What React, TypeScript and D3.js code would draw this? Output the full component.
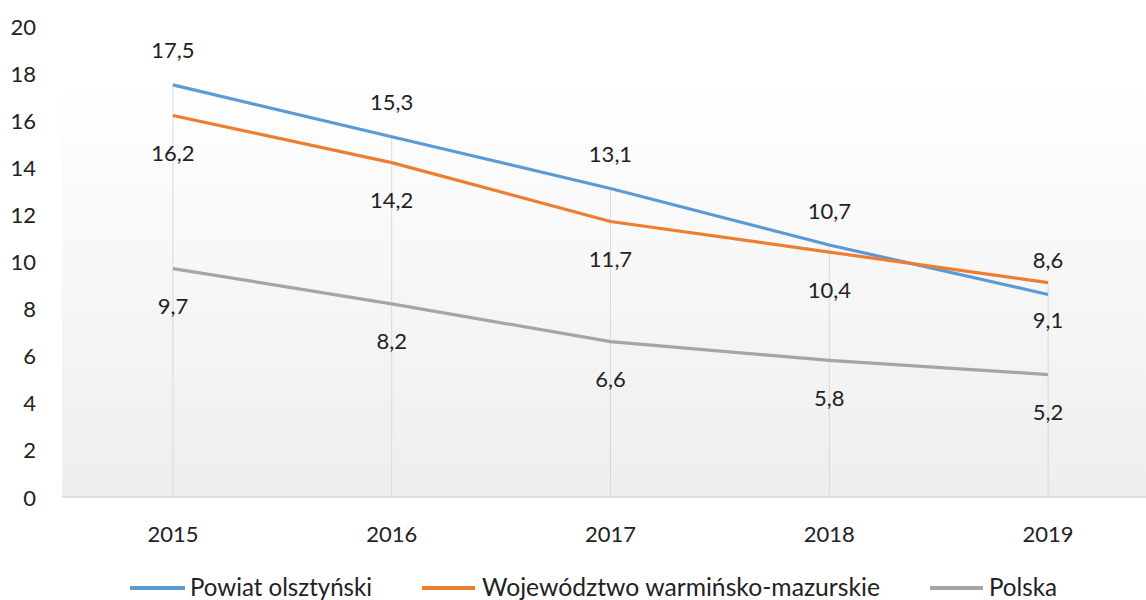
import React from "react";
import * as d3 from "d3";

const categories = ["2015", "2016", "2017", "2018", "2019"];
const powiat = [17.5, 15.3, 13.1, 10.7, 8.6];
const wojewodztwo = [16.2, 14.2, 11.7, 10.4, 9.1];
const polska = [9.7, 8.2, 6.6, 5.8, 5.2];
const yTicks = [0, 2, 4, 6, 8, 10, 12, 14, 16, 18, 20];
const seriesNames = ["Powiat olsztyński", "Województwo warmińsko-mazurskie", "Polska"];

const W = 1146;
const H = 600;
const FONT = "Lato, 'Open Sans', sans-serif";

export default function App() {
  const x = d3.scaleBand<string>().domain(categories).range([63.5, 1157.5]);
  const y = d3.scaleLinear().domain([0, 20]).range([497, 26]);
  const cx = (c: string) => (x(c) as number) + x.bandwidth() / 2;

  const series = [
    { name: seriesNames[0], values: powiat, color: "#5B9BD5", pos: "above" },
    { name: seriesNames[1], values: wojewodztwo, color: "#ED7D31", pos: "below" },
    { name: seriesNames[2], values: polska, color: "#A5A5A5", pos: "below" },
  ];

  const line = d3
    .line<number>()
    .x((_, i) => cx(categories[i]))
    .y((v) => y(v));

  const fmt = (v: number) => v.toFixed(1).replace(".", ",");

  const legend = [
    { x0: 130, x1: 185, tx: 190, tw: 182, color: "#5B9BD5", name: seriesNames[0] },
    { x0: 422, x1: 475, tx: 482, tw: 398, color: "#ED7D31", name: seriesNames[1] },
    { x0: 930, x1: 983, tx: 989, tw: 68, color: "#A5A5A5", name: seriesNames[2] },
  ];

  return (
    <svg
      width={W}
      height={H}
      style={{ position: "absolute", left: 0, top: 0, background: "#fff" }}
      fontFamily={FONT}
    >
      <defs>
        <linearGradient id="bg" x1="0" y1="0" x2="0" y2="1">
          <stop offset="0" stopColor="#ffffff" />
          <stop offset="0.1" stopColor="#ffffff" />
          <stop offset="1" stopColor="#eeeeee" />
        </linearGradient>
      </defs>
      <rect x={62} y={y(20)} width={W - 62} height={y(0) - y(20)} fill="url(#bg)" />
      {/* drop lines */}
      {categories.map((c, i) => {
        const top = Math.max(powiat[i], wojewodztwo[i], polska[i]);
        return (
          <line
            key={c}
            x1={cx(c)}
            x2={cx(c)}
            y1={y(top)}
            y2={y(0)}
            stroke="#d9d9d9"
            strokeWidth={1}
          />
        );
      })}
      <line x1={62} x2={W} y1={y(0)} y2={y(0)} stroke="#d9d9d9" strokeWidth={1.5} />
      {/* y tick labels */}
      {yTicks.map((t) => (
        <text
          key={t}
          x={36}
          y={y(t)}
          textAnchor="end"
          dominantBaseline="central"
          fontSize={22}
          fill="#222"
        >
          {t}
        </text>
      ))}
      {/* x tick labels */}
      {categories.map((c) => (
        <text
          key={c}
          x={cx(c)}
          y={533}
          textAnchor="middle"
          dominantBaseline="central"
          fontSize={22}
          fill="#222"
        >
          {c}
        </text>
      ))}
      {/* lines */}
      {series.map((s) => (
        <path
          key={s.name}
          d={line(s.values) || ""}
          fill="none"
          stroke={s.color}
          strokeWidth={3.2}
          strokeLinejoin="round"
        />
      ))}
      {/* data labels */}
      {series.map((s) =>
        s.values.map((v, i) => (
          <text
            key={s.name + i}
            x={cx(categories[i])}
            y={y(v) + (s.pos === "above" ? -35 : 37)}
            textAnchor="middle"
            dominantBaseline="central"
            fontSize={22}
            fill="#222"
          >
            {fmt(v)}
          </text>
        ))
      )}
      {/* legend */}
      {legend.map((l) => (
        <g key={l.name}>
          <line x1={l.x0} x2={l.x1} y1={588} y2={588} stroke={l.color} strokeWidth={4} />
          <text
            x={l.tx}
            y={596}
            fontSize={25}
            fill="#222"
            textLength={l.tw}
            lengthAdjust="spacingAndGlyphs"
          >
            {l.name}
          </text>
        </g>
      ))}
    </svg>
  );
}
